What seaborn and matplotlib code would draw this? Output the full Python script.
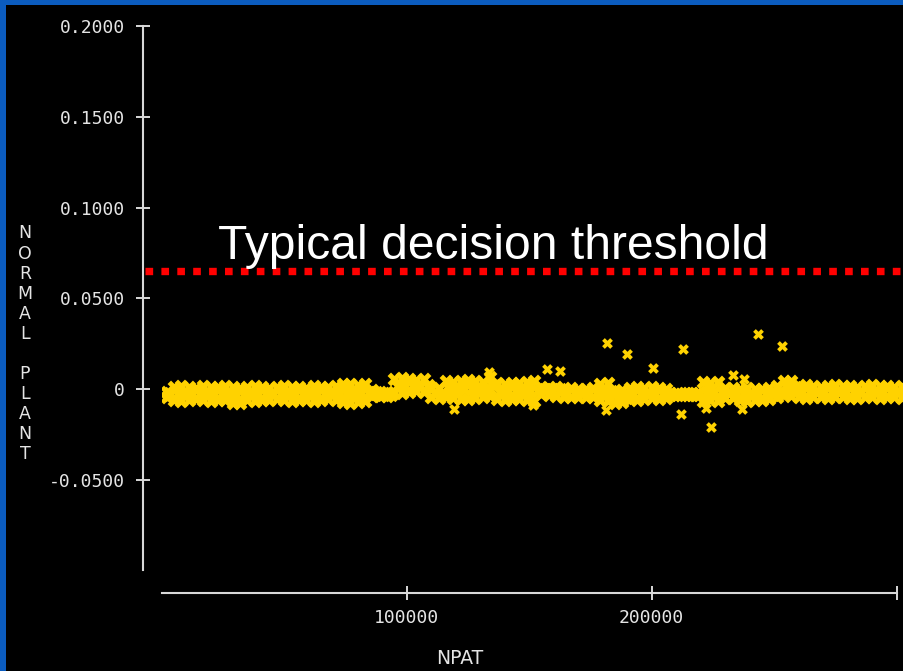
import numpy as np
import pandas as pd
import matplotlib
matplotlib.use("Agg")
import matplotlib.pyplot as plt
from matplotlib.patches import Rectangle
import seaborn as sns

# ---- data -------------------------------------------------------------
# NPAT sample positions of the dense band (every 3000 patterns)
npat_grid = np.arange(2000, 303000, 3000)

# upper, middle and lower rows of the dense band of NORMAL PLANT scores
band_upper = [
    -0.0017, 0.0010, 0.0016, 0.0010, 0.0005, 0.0016, 0.0010, 0.0010, 0.0016, 0.0010,
    0.0005, 0.0010, 0.0016, 0.0010, 0.0005, 0.0010, 0.0016, 0.0010, 0.0010, 0.0005,
    0.0016, 0.0010, 0.0010, 0.0016, 0.0027, 0.0027, 0.0021, 0.0027, -0.0006, -0.0017,
    -0.0023, 0.0054, 0.0059, 0.0054, 0.0049, 0.0054, -0.0001, 0.0005, 0.0043, 0.0038,
    0.0043, 0.0049, 0.0043, 0.0038, 0.0065, 0.0032, 0.0027, 0.0032, 0.0032, 0.0038,
    0.0043, 0.0010, 0.0005, 0.0010, -0.0001, 0.0005, -0.0001, -0.0001, 0.0005, 0.0027,
    0.0032, -0.0012, -0.0006, 0.0005, 0.0010, 0.0005, 0.0010, 0.0005, -0.0001, -0.0028,
    -0.0028, -0.0023, -0.0028, 0.0038, 0.0032, 0.0038, 0.0005, 0.0005, -0.0001, 0.0005,
    -0.0001, -0.0001, 0.0005, 0.0016, 0.0043, 0.0043, 0.0016, 0.0021, 0.0016, 0.0010,
    0.0016, 0.0021, 0.0016, 0.0016, 0.0010, 0.0016, 0.0021, 0.0016, 0.0016, 0.0010,
    0.0016,
]
band_middle = [
    -0.0030, -0.0025, -0.0025, -0.0025, -0.0025, -0.0025, -0.0025, -0.0025, -0.0025, -0.0033,
    -0.0033, -0.0025, -0.0025, -0.0025, -0.0025, -0.0025, -0.0025, -0.0025, -0.0025, -0.0025,
    -0.0025, -0.0025, -0.0025, -0.0025, -0.0022, -0.0022, -0.0022, -0.0022, -0.0022, -0.0028,
    -0.0030, 0.0019, 0.0019, 0.0019, 0.0019, 0.0019, -0.0022, -0.0022, 0.0000, 0.0000,
    0.0000, 0.0000, 0.0000, 0.0000, 0.0014, -0.0011, -0.0011, -0.0011, -0.0011, -0.0011,
    -0.0011, -0.0008, -0.0008, -0.0008, -0.0022, -0.0022, -0.0022, -0.0022, -0.0022, -0.0017,
    -0.0017, -0.0044, -0.0044, -0.0025, -0.0025, -0.0025, -0.0025, -0.0025, -0.0025, -0.0030,
    -0.0030, -0.0030, -0.0030, -0.0014, -0.0014, -0.0014, -0.0022, -0.0022, -0.0030, -0.0030,
    -0.0030, -0.0030, -0.0030, -0.0014, 0.0006, 0.0006, -0.0014, -0.0014, -0.0014, -0.0014,
    -0.0014, -0.0014, -0.0014, -0.0014, -0.0014, -0.0014, -0.0014, -0.0014, -0.0014, -0.0014,
    -0.0014,
]
band_lower = [
    -0.0043, -0.0060, -0.0065, -0.0060, -0.0054, -0.0060, -0.0065, -0.0060, -0.0060, -0.0076,
    -0.0076, -0.0060, -0.0065, -0.0060, -0.0060, -0.0054, -0.0060, -0.0065, -0.0060, -0.0060,
    -0.0065, -0.0060, -0.0054, -0.0060, -0.0071, -0.0076, -0.0071, -0.0065, -0.0038, -0.0038,
    -0.0038, -0.0016, -0.0021, -0.0016, -0.0010, -0.0016, -0.0043, -0.0049, -0.0043, -0.0049,
    -0.0054, -0.0054, -0.0049, -0.0043, -0.0038, -0.0054, -0.0060, -0.0054, -0.0054, -0.0060,
    -0.0065, -0.0027, -0.0032, -0.0038, -0.0043, -0.0043, -0.0043, -0.0043, -0.0043, -0.0060,
    -0.0065, -0.0076, -0.0071, -0.0054, -0.0060, -0.0054, -0.0049, -0.0054, -0.0049, -0.0032,
    -0.0032, -0.0032, -0.0032, -0.0065, -0.0060, -0.0065, -0.0049, -0.0049, -0.0060, -0.0065,
    -0.0060, -0.0060, -0.0054, -0.0043, -0.0032, -0.0038, -0.0043, -0.0049, -0.0043, -0.0043,
    -0.0049, -0.0043, -0.0043, -0.0049, -0.0049, -0.0043, -0.0043, -0.0049, -0.0043, -0.0043,
    -0.0049,
]

# isolated patterns scattered away from the band
outlier_npat = [181650, 189800, 200400, 212700, 243300, 253100, 157200, 162500,
                133500, 119200, 181200, 211900, 224100, 222100, 236800, 233000,
                237600, 151400]
outlier_value = [0.0254, 0.0193, 0.0116, 0.0221, 0.0303, 0.0237, 0.0110, 0.0099,
                 0.0094, -0.0110, -0.0116, -0.0138, -0.0209, -0.0105, -0.0110, 0.0077,
                 0.0055, -0.0088]

threshold = 0.065

y_ticks = [-0.05, 0.0, 0.05, 0.10, 0.15, 0.20]
y_tick_labels = ["-0.0500", "0", "0.0500", "0.1000", "0.1500", "0.2000"]
x_ticks = [100000, 200000, 300000]
x_tick_labels = ["100000", "200000", ""]

# ---- style ------------------------------------------------------------
sns.set_theme(style="ticks")
BLUE = "#0b5cbf"
GOLD = "#ffd200"
AXIS = "#d8d8d8"
LABEL = "#e4e4e4"
MONO = "DejaVu Sans Mono"

edge_rows = pd.concat([
    pd.DataFrame({"npat": npat_grid, "score": band_upper}),
    pd.DataFrame({"npat": npat_grid, "score": band_lower}),
], ignore_index=True)
middle_row = pd.DataFrame({"npat": npat_grid + 1500, "score": band_middle})
outliers = pd.DataFrame({"npat": outlier_npat, "score": outlier_value})

fig = plt.figure(figsize=(9.04, 6.71), dpi=100, facecolor=BLUE)
fig.patches.append(Rectangle((6 / 904, 0), 1, (671 - 5) / 671,
                             transform=fig.transFigure, facecolor="black",
                             edgecolor="none", zorder=-5))

ax = fig.add_axes([161.7 / 904, (671 - 570.4) / 671,
                   (904 - 161.7) / 904, (570.4 - 26.2) / 671])
ax.set_facecolor("none")

sns.scatterplot(data=middle_row, x="npat", y="score", marker="X", s=125,
                color=GOLD, linewidth=0, ax=ax, zorder=3)
sns.scatterplot(data=edge_rows, x="npat", y="score", marker="X", s=100,
                color=GOLD, linewidth=0, ax=ax, zorder=3)
sns.scatterplot(data=outliers, x="npat", y="score", marker="X", s=60,
                color=GOLD, linewidth=0, ax=ax, zorder=3)

ax.set_xlim(0, (904 - 161.7) / 245 * 100000)
ax.set_ylim(-0.1, 0.2)

# dotted threshold line running from the y axis to the right edge
ax.axhline(threshold, xmin=(145 - 161.7) / (904 - 161.7), xmax=1,
           color="#ff0000", lw=5.3, linestyle=(0, (1.04, 1.12)),
           dash_capstyle="butt", clip_on=False, zorder=4)
fig.text(218 / 904, (671 - 259.5) / 671, "Typical decision threshold",
         family="Liberation Sans", fontsize=34.6, color="white",
         ha="left", va="baseline")

# detached axes lines
for side in ("top", "right"):
    ax.spines[side].set_visible(False)
ax.spines["left"].set_position(("outward", 18.7 * 0.72))
ax.spines["bottom"].set_position(("outward", 22.3 * 0.72))
ax.spines["left"].set_bounds(-0.1, 0.2)
ax.spines["bottom"].set_bounds(0, 300000)
for side in ("left", "bottom"):
    ax.spines[side].set_color(AXIS)
    ax.spines[side].set_linewidth(1.5)

ax.set_yticks(y_ticks)
ax.set_yticklabels(y_tick_labels)
ax.set_xticks(x_ticks)
ax.set_xticklabels(x_tick_labels)
ax.tick_params(axis="both", direction="inout", length=9.4, width=1.4,
               color=AXIS, labelcolor=LABEL, labelsize=13)
ax.tick_params(axis="y", pad=8.5)
ax.tick_params(axis="x", pad=7.0)
for lab in ax.get_xticklabels() + ax.get_yticklabels():
    lab.set_family(MONO)
ax.set_xlabel("")
ax.set_ylabel("")
ax.grid(False)

fig.text(460 / 904, (671 - 663.5) / 671, "NPAT", family="DejaVu Sans",
         fontsize=13.5, color=LABEL, ha="center", va="baseline")
fig.text(25 / 904, (671 - 224.5) / 671, "\n".join("NORMAL PLANT"),
         family="DejaVu Sans", fontsize=12.5, color=LABEL, ha="center", va="top",
         multialignment="center", linespacing=1.145)

fig.savefig("out.png", dpi=100, facecolor=fig.get_facecolor())
